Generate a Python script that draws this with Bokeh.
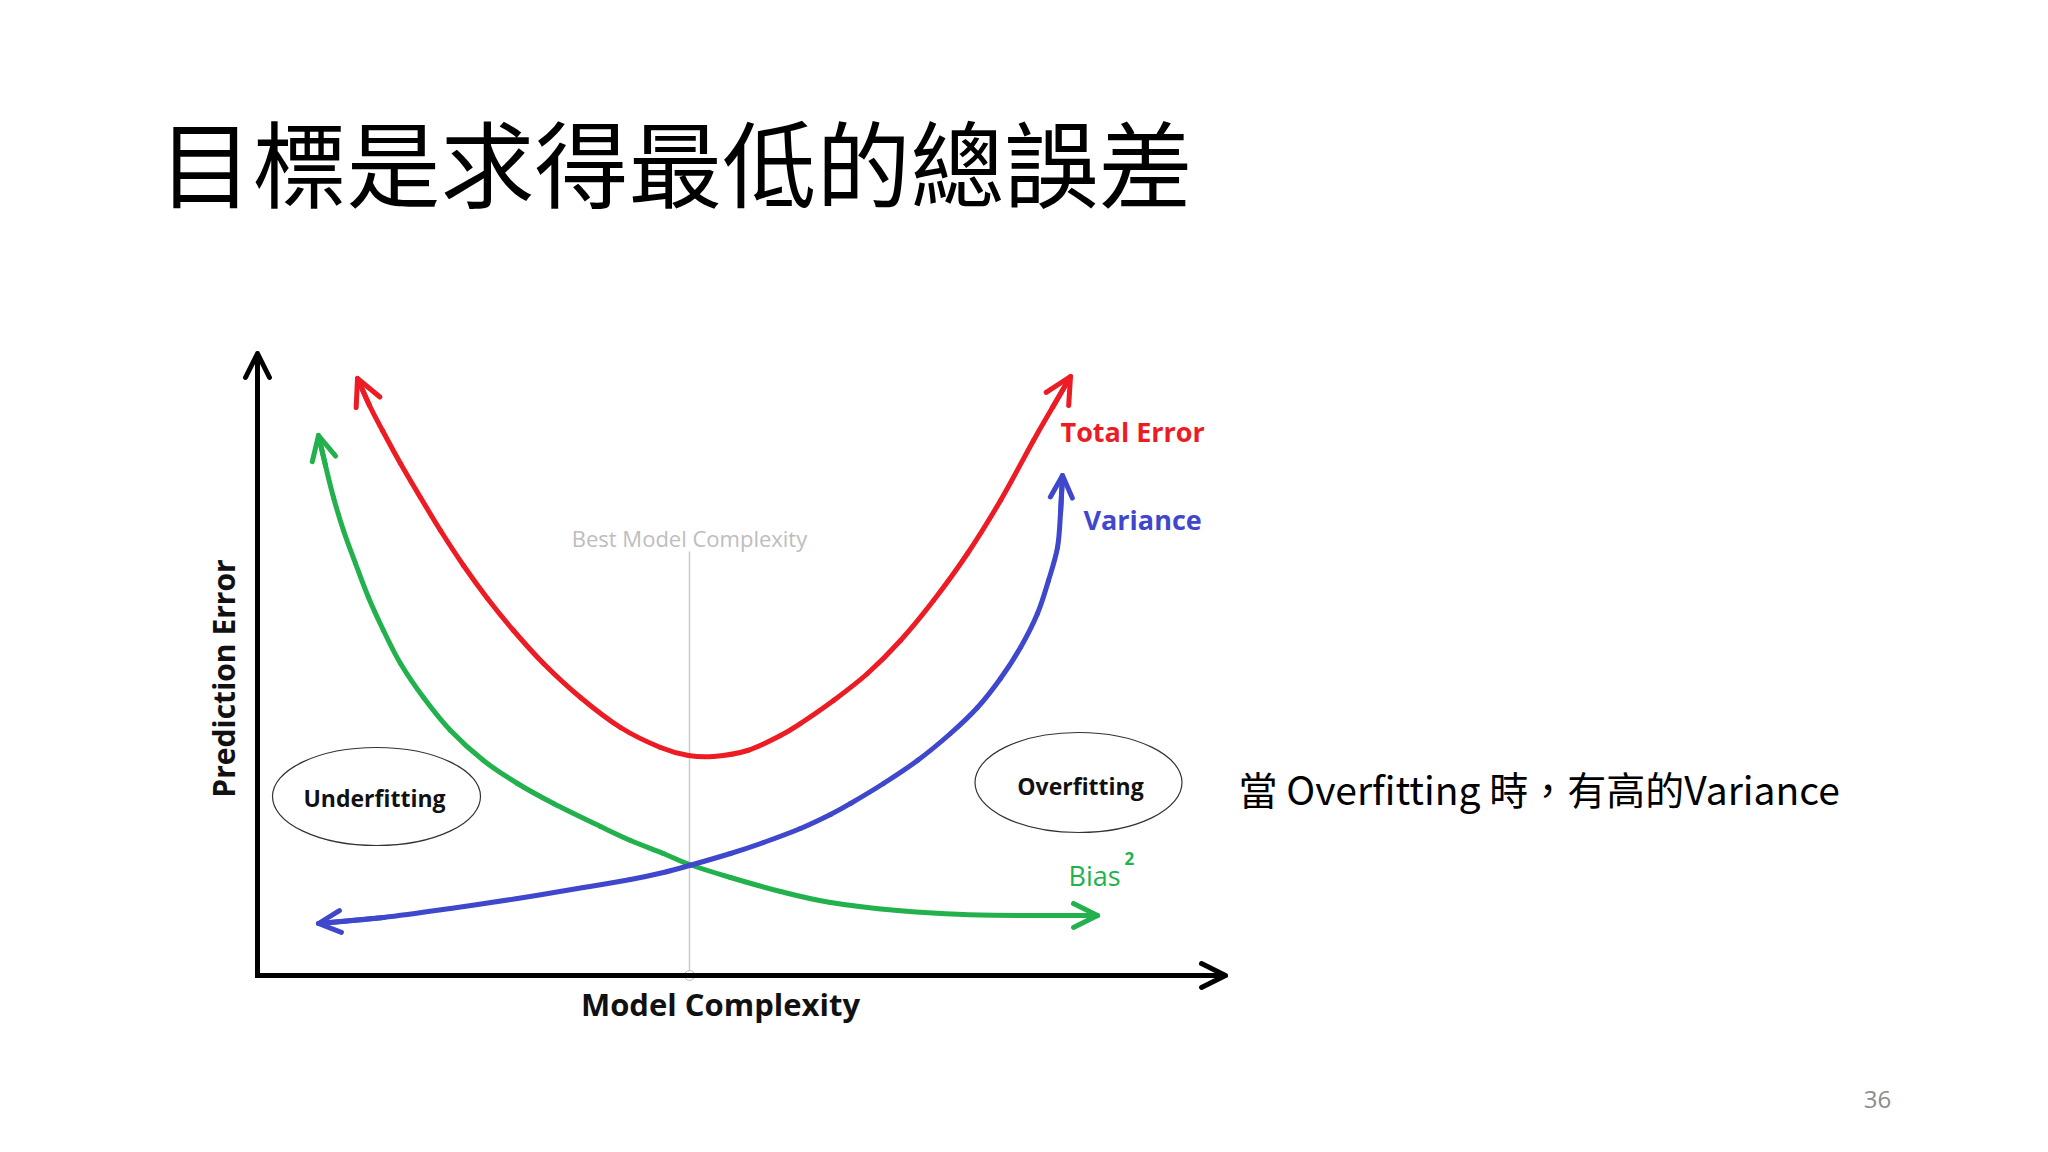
from bokeh.plotting import figure
from bokeh.models import Range1d, Arrow, OpenHead
from bokeh.embed import file_html
from bokeh.resources import INLINE
from bokeh.core.properties import value

# ---- data (model complexity on x, prediction error on y; origin = axes crossing) ----
total_error_x = [100, 112, 125, 143, 163, 183, 206, 230, 256, 286, 323, 363, 403, 431, 456,
                 490, 523, 543, 576, 610, 643, 676, 710, 743, 776, 795, 813]
total_error_y = [597, 570, 545, 512, 478, 445, 410, 377, 345, 312, 278, 248, 228, 220, 219,
                 225, 240, 252, 275, 302, 335, 375, 422, 475, 535, 568, 599]

bias_sq_x = [61, 68, 76, 86, 98, 111, 126, 143, 166, 193, 226, 260, 296, 343, 373, 406, 432,
             473, 523, 573, 640, 706, 773, 840]
bias_sq_y = [540, 510, 478, 445, 412, 378, 345, 312, 278, 245, 215, 192, 172, 149, 135, 122,
             111, 98, 84, 73, 65, 61, 60, 60]

variance_x = [61, 126, 193, 260, 326, 373, 406, 432, 473, 506, 543, 573, 593, 626, 660, 693,
              720, 743, 763, 780, 791, 800, 803, 805]
variance_y = [52, 58, 67, 77, 88, 96, 103, 110, 122, 133, 147, 161, 172, 192, 215, 242,
              268, 297, 328, 362, 395, 428, 462, 500]

best_complexity = 432
axis_x_max = 968
axis_y_max = 622

title = "目標是求得最低的總誤差"
note = "當 Overfitting 時，有高的Variance"
page_no = "36"
x_label = "Model Complexity"
y_label = "Prediction Error"
best_label = "Best Model Complexity"
series_labels = ["Total Error", "Variance", "Bias"]
region_labels = ["Underfitting", "Overfitting"]

RED = "#ED1C24"
GREEN = "#22B14C"
BLUE = "#3F48CC"

p = figure(width=2032, height=1136, x_range=Range1d(-257, 1775), y_range=Range1d(-161, 975),
           x_axis_type=None, y_axis_type=None, toolbar_location=None,
           output_backend="svg", min_border=0)
p.outline_line_color = None
p.background_fill_color = "white"
p.border_fill_color = "white"

LATIN = value("Open Sans")
CJK = value("Noto Sans CJK TC")

# best-complexity marker line
p.line([best_complexity, best_complexity], [0, 424], line_color="#cccccc", line_width=1.5)
p.scatter([best_complexity], [0], size=10, marker="circle", fill_color="white",
          line_color="#bbbbbb", line_width=1)
p.text([best_complexity], [438], text=[best_label], text_font=LATIN, text_font_size="22px",
       text_color="#bdbdbd", text_align="center", text_baseline="middle")

# axes
p.line([0, 0, axis_x_max - 4], [axis_y_max - 4, 0, 0], line_color="black", line_width=5,
       line_join="miter")


def arrow(x0, y0, x1, y1, color, size):
    p.add_layout(Arrow(end=OpenHead(size=size, line_color=color, line_width=5,
                                    line_join="round", line_cap="round"),
                       x_start=x0, y_start=y0, x_end=x1, y_end=y1,
                       line_color=color, line_width=5, line_cap="round"))


def smooth_curve(xs, ys, color):
    """Draw a smooth curve passing through every read point (Catmull-Rom as Beziers)."""
    n = len(xs)
    seg = dict(x0=[], y0=[], x1=[], y1=[], cx0=[], cy0=[], cx1=[], cy1=[])
    for i in range(n - 1):
        ip, inx = max(i - 1, 0), min(i + 2, n - 1)
        seg["x0"].append(xs[i]); seg["y0"].append(ys[i])
        seg["x1"].append(xs[i + 1]); seg["y1"].append(ys[i + 1])
        seg["cx0"].append(xs[i] + (xs[i + 1] - xs[ip]) / 6)
        seg["cy0"].append(ys[i] + (ys[i + 1] - ys[ip]) / 6)
        seg["cx1"].append(xs[i + 1] - (xs[inx] - xs[i]) / 6)
        seg["cy1"].append(ys[i + 1] - (ys[inx] - ys[i]) / 6)
    p.bezier(line_color=color, line_width=5, line_cap="round", **seg)


arrow(axis_x_max - 20, 0, axis_x_max, 0, "black", 24)
arrow(0, axis_y_max - 20, 0, axis_y_max, "black", 24)

# curves
for xs, ys, col, hs in [(total_error_x, total_error_y, RED, 26),
                        (bias_sq_x, bias_sq_y, GREEN, 24),
                        (variance_x, variance_y, BLUE, 22)]:
    smooth_curve(xs, ys, col)
    arrow(xs[1], ys[1], xs[0], ys[0], col, hs)
    arrow(xs[-2], ys[-2], xs[-1], ys[-1], col, hs)

# series labels
p.text([total_error_x[-1] - 10], [total_error_y[-1] - 55], text=[series_labels[0]],
       text_font=LATIN, text_font_style="bold", text_font_size="27px", text_color=RED,
       text_align="left", text_baseline="middle")
p.text([variance_x[-1] + 21], [variance_y[-1] - 44], text=[series_labels[1]],
       text_font=LATIN, text_font_style="bold", text_font_size="27px", text_color=BLUE,
       text_align="left", text_baseline="middle")
p.text([bias_sq_x[-1] - 29], [bias_sq_y[-1] + 40], text=[series_labels[2]],
       text_font=LATIN, text_font_size="27px", text_color=GREEN,
       text_align="left", text_baseline="alphabetic")
p.text([bias_sq_x[-1] + 27], [bias_sq_y[-1] + 57], text=["2"],
       text_font=LATIN, text_font_style="bold", text_font_size="17px", text_color=GREEN,
       text_align="left", text_baseline="middle")

# region ellipses
p.ellipse(x=[119, 821], y=[179, 193], width=[208, 207], height=[98, 100],
          fill_color=None, line_color="#333333", line_width=1.2)
p.text([117, 823], [178, 190], text=region_labels, text_font=LATIN, text_font_style="bold",
       text_font_size="23px", text_color="#111111", text_align="center",
       text_baseline="middle")

# axis labels
p.text([463], [-28], text=[x_label], text_font=LATIN, text_font_style="bold",
       text_font_size="31px", text_color="#111111", text_align="center",
       text_baseline="middle")
p.text([-34], [297], text=[y_label], angle=1.5708, text_font=LATIN, text_font_style="bold",
       text_font_size="30px", text_color="#111111", text_align="center",
       text_baseline="middle")

# slide texts
p.text([-99], [816], text=[title], text_font=CJK, text_font_size="94px",
       text_color="black", text_align="left", text_baseline="middle")
p.text([981], [188], text=[note], text_font=CJK, text_font_size="39px",
       text_color="black", text_align="left", text_baseline="middle")
p.text([1620], [-124], text=[page_no], text_font=LATIN, text_font_size="24px",
       text_color="#8c8c8c", text_align="center", text_baseline="middle")

open("out.html", "w").write(file_html(p, INLINE))
